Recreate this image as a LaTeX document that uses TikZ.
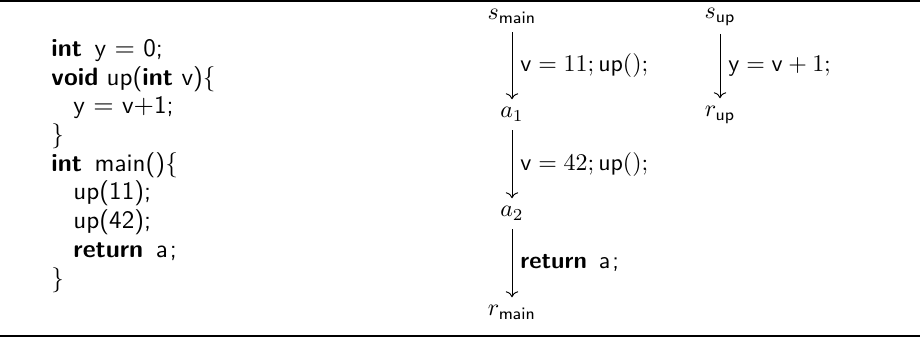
\documentclass[tikz,border=0pt]{standalone}
\usetikzlibrary{arrows.meta}
\begin{document}
\begin{tikzpicture}[x=0.41806pt,y=-0.41806pt,
  code/.style={anchor=base west,inner sep=0pt,font=\fontsize{10.5}{12.6}\selectfont\sffamily},
  st/.style={anchor=base,inner sep=3.33pt},
  lab/.style={midway,right,inner sep=3.33pt},
  flow/.style={->,line width=0.4pt}]
\useasboundingbox (0,0) rectangle (920,339);
\fill (0,0) rectangle (920,2);
\fill (0,335) rectangle (920,337);
% code
\node[code] (c1) at (51,57) {\textbf{int}\hspace{0.5em}y $=$ 0;};
\node[code] (c2) at (51,86) {\textbf{void} up(\textbf{int} v)\{};
\node[code] (c3) at (73,114) {y $=$ v$+$1;};
\node[code] (c4) at (51,143) {\}};
\node[code] (c5) at (51,172) {\textbf{int}\hspace{0.5em}main()\{};
\node[code] (c6) at (73,200) {up(11);};
\node[code] (c7) at (73,229) {up(42);};
\node[code] (c8) at (73,258) {\textbf{return}\hspace{0.5em}a\kern0.08em;};
\node[code] (c9) at (51,287) {\}};
% main
\node[st] (smain) at (512,20) {$s_{\mathsf{main}}$};
\node[st] (a1) at (512,118) {$a_1$};
\node[st] (a2) at (512,217) {$a_2$};
\node[st] (rmain) at (512,316) {$r_{\mathsf{main}}$};
\draw[flow] (smain) -- node[lab] (l1) {$\mathsf{v}=11;\mathsf{up}();$} (a1);
\draw[flow] (a1) -- node[lab] (l2) {$\mathsf{v}=42;\mathsf{up}();$} (a2);
\draw[flow] (a2) -- node[lab] (l3) {\sffamily\textbf{return}\hspace{5pt}a\kern0.8pt;} (rmain);
% up
\node[st] (sup) at (720,18.5) {$s_{\mathsf{up}}$};
\node[st] (rup) at (720,117) {$r_{\mathsf{up}}$};
\draw[flow] (sup) -- node[lab] (l4) {$\mathsf{y}=\mathsf{v}+1;$} (rup);
\end{tikzpicture}
\end{document}
